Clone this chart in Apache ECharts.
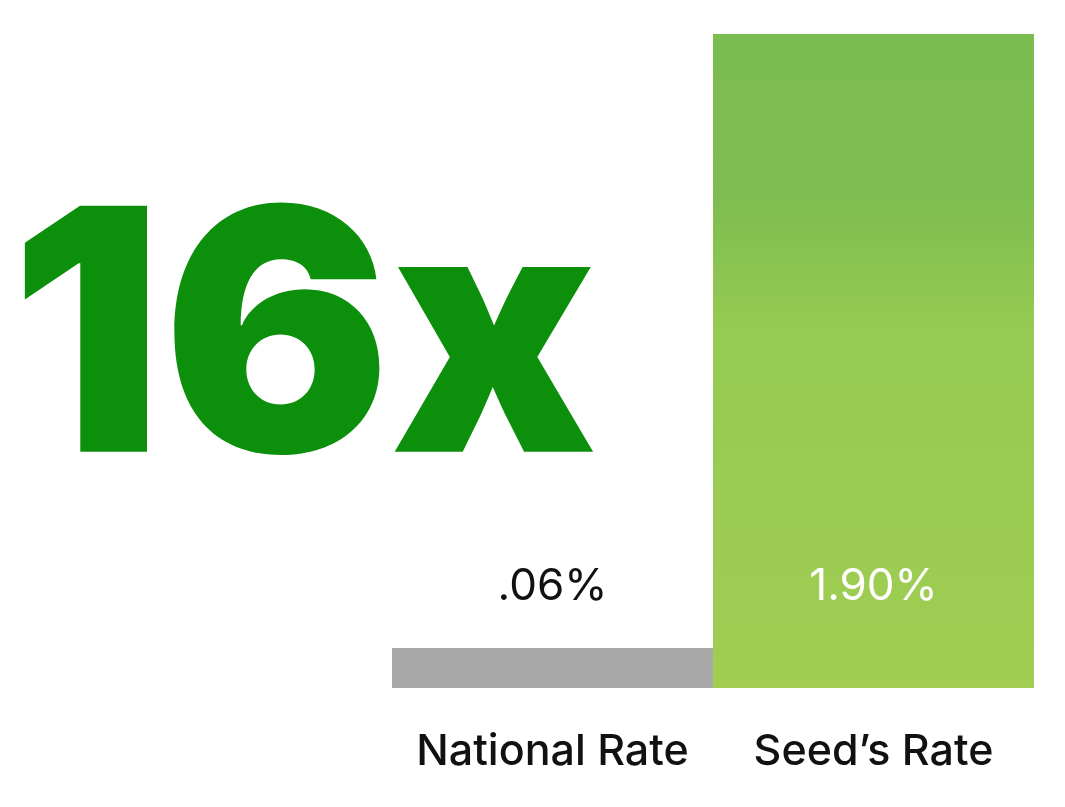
<!DOCTYPE html>
<html><head><meta charset="utf-8">
<script src="https://cdn.jsdelivr.net/npm/echarts@6/dist/echarts.min.js"></script>
<style>html,body{margin:0;padding:0;background:#fff}#c{width:1065px;height:807px}</style>
</head><body><div id="c"></div>
<script>
const categories = ['National Rate', "Seed\u2019s Rate"];
const rates = [0.06, 1.90];
const valueLabels = ['.06%', '1.90%'];
const headline = '16x';

const chart = echarts.init(document.getElementById('c'), null, {renderer: 'canvas'});
const green = new echarts.graphic.LinearGradient(0, 0, 0, 1, [
  {offset: 0, color: '#7bbc50'},
  {offset: 0.25, color: '#7ebd50'},
  {offset: 0.45, color: '#96ca52'},
  {offset: 1, color: '#a0cd52'}
]);
chart.setOption({
  animation: false,
  backgroundColor: '#ffffff',
  grid: {left: 392, right: 31, top: 34, bottom: 119, containLabel: false},
  xAxis: {
    type: 'category', data: categories,
    axisLine: {show: false}, axisTick: {show: false},
    axisLabel: {interval: 0, color: '#111', fontFamily: 'Inter', fontWeight: 500, fontSize: 43, margin: 43}
  },
  yAxis: {type: 'value', min: 0, max: 1.9, show: false, splitLine: {show: false}},
  series: [{
    type: 'bar',
    barWidth: '100%',
    barMinHeight: 40,
    data: rates.map((v, i) => ({
      value: v,
      itemStyle: {color: i === 0 ? '#a8a9a8' : green},
      label: {
        show: true, position: 'insideBottom', distance: 79,
        formatter: valueLabels[i],
        color: i === 0 ? '#111' : '#ffffff',
        fontFamily: 'Inter', fontWeight: 400, fontSize: 44
      }
    }))
  }],
  graphic: [{
    type: 'text', left: 10, top: 181,
    style: {text: headline, fill: '#0c900c', font: '900 338px Inter'}
  }]
});
</script></body></html>
